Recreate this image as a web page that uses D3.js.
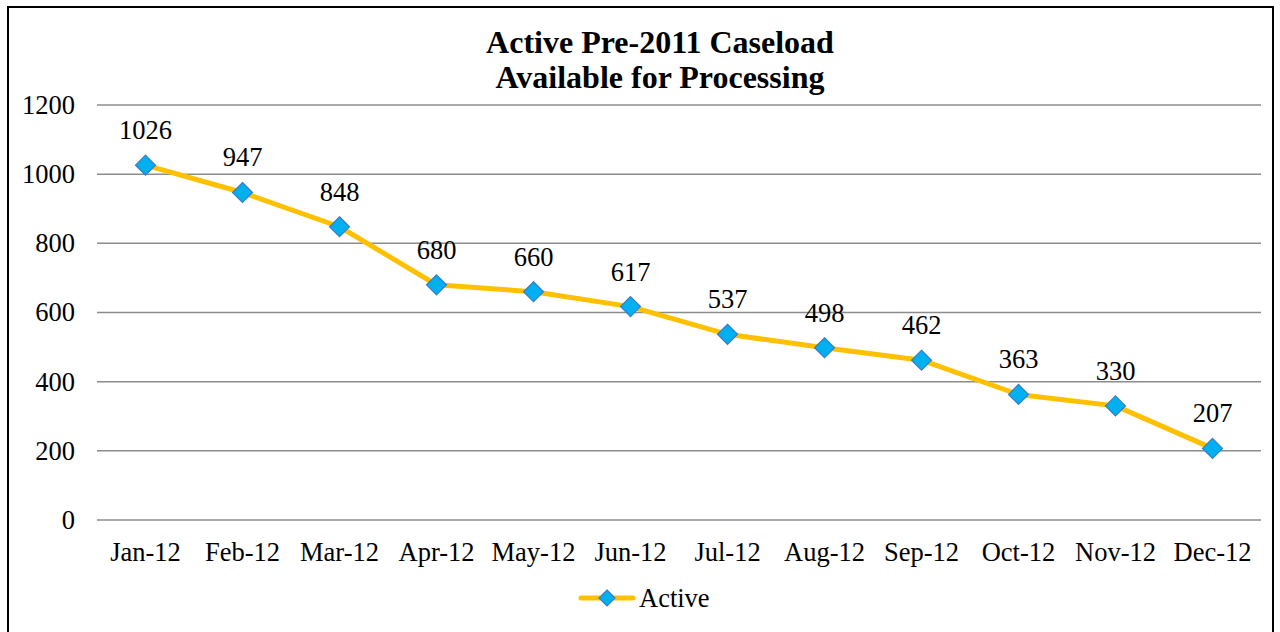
<!DOCTYPE html>
<html>
<head>
<meta charset="utf-8">
<script src="https://cdn.jsdelivr.net/npm/d3@7"></script>
<style>
  html, body { margin: 0; padding: 0; background: #fff; }
  svg { display: block; }
  svg text { font-family: "Times New Roman", Times, "Liberation Serif", serif; }
</style>
</head>
<body>
<div id="plot"></div>
<script>
// chart data
const months = ["Jan-12", "Feb-12", "Mar-12", "Apr-12", "May-12", "Jun-12",
                "Jul-12", "Aug-12", "Sep-12", "Oct-12", "Nov-12", "Dec-12"];
const active = [1026, 947, 848, 680, 660, 617, 537, 498, 462, 363, 330, 207];
const yTicks = [0, 200, 400, 600, 800, 1000, 1200];
const titleLines = ["Active Pre-2011 Caseload", "Available for Processing"];
const seriesName = "Active";

const width = 1280, height = 632;
const font = "'Times New Roman', Times, 'Liberation Serif', serif";
const fs = "26.5px";
const lineColor = "#FFC000", markerFill = "#00B0F0", markerStroke = "#3B7DC4";

const svg = d3.select("#plot").append("svg")
    .attr("width", width)
    .attr("height", height);

// outer frame
svg.append("rect")
    .attr("x", 8).attr("y", 7)
    .attr("width", 1265).attr("height", 640)
    .attr("fill", "none")
    .attr("stroke", "#000")
    .attr("stroke-width", 2);

// title
svg.append("text")
    .attr("x", 660).attr("y", 53)
    .attr("text-anchor", "middle")
    .style("font-family", font)
    .style("font-weight", "bold")
    .style("font-size", "32px")
    .selectAll("tspan")
    .data(titleLines)
    .enter().append("tspan")
    .attr("x", 660)
    .attr("dy", (d, i) => i === 0 ? 0 : 35)
    .text(d => d);

// scales
const x = d3.scaleBand()
    .domain(months)
    .range([97, 1261]);

const y = d3.scaleLinear()
    .domain([0, 1200])
    .range([520, 105]);

// gridlines
svg.append("g")
    .selectAll("line")
    .data(yTicks)
    .enter().append("line")
    .attr("x1", 97).attr("x2", 1261)
    .attr("y1", d => y(d)).attr("y2", d => y(d))
    .attr("stroke", "#8c8c8c")
    .attr("stroke-width", 1.5);

// y axis labels
const yAxis = d3.axisLeft(y).tickValues(yTicks).tickFormat(d3.format("d"))
    .tickSize(0).tickPadding(0);
const gy = svg.append("g")
    .attr("transform", "translate(75,0)")
    .call(yAxis)
    .attr("font-family", null);
gy.select(".domain").remove();
gy.selectAll("text")
    .style("font-family", font)
    .style("font-size", fs)
    .attr("fill", "#000");

// x axis labels
const xAxis = d3.axisBottom(x).tickSize(0).tickPadding(0);
const gx = svg.append("g")
    .attr("transform", "translate(0,542)")
    .call(xAxis)
    .attr("font-family", null);
gx.select(".domain").remove();
gx.selectAll("text")
    .style("font-family", font)
    .style("font-size", fs)
    .attr("fill", "#000");

const cx = d => x(d) + x.bandwidth() / 2;
const points = months.map((m, i) => ({ m, v: active[i] }));

// series line
svg.append("path")
    .datum(points)
    .attr("fill", "none")
    .attr("stroke", lineColor)
    .attr("stroke-width", 5)
    .attr("stroke-linejoin", "round")
    .attr("d", d3.line().x(d => cx(d.m)).y(d => y(d.v)));

// diamond markers
const diamond = "M0,-10L10,0L0,10L-10,0Z";
svg.append("g")
    .selectAll("path")
    .data(points)
    .enter().append("path")
    .attr("transform", d => `translate(${cx(d.m)},${y(d.v)})`)
    .attr("d", diamond)
    .attr("fill", markerFill)
    .attr("stroke", markerStroke)
    .attr("stroke-width", 1.2);

// data labels
svg.append("g")
    .selectAll("text")
    .data(points)
    .enter().append("text")
    .attr("x", d => cx(d.m))
    .attr("y", d => y(d.v) - 26)
    .attr("text-anchor", "middle")
    .style("font-family", font)
    .style("font-size", fs)
    .text(d => d.v);

// legend
const lg = svg.append("g").attr("transform", "translate(581,598)");
lg.append("line")
    .attr("x1", 0).attr("x2", 52)
    .attr("stroke", lineColor)
    .attr("stroke-width", 5)
    .attr("stroke-linecap", "round");
lg.append("path")
    .attr("transform", "translate(26,0)")
    .attr("d", "M0,-8L8,0L0,8L-8,0Z")
    .attr("fill", markerFill)
    .attr("stroke", markerStroke)
    .attr("stroke-width", 1.2);
lg.append("text")
    .attr("x", 58).attr("y", 9)
    .style("font-family", font)
    .style("font-size", fs)
    .text(seriesName);
</script>
</body>
</html>
